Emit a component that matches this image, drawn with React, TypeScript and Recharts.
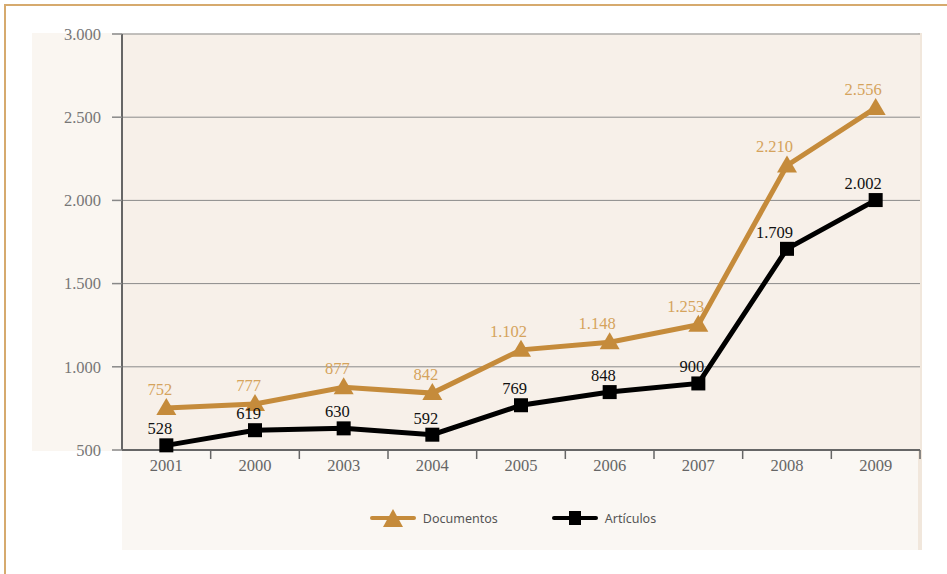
import { LineChart, Line, XAxis, YAxis, CartesianGrid, Legend, LabelList } from 'recharts'

const years = ['2001', '2000', '2003', '2004', '2005', '2006', '2007', '2008', '2009']
const documentos = [752, 777, 877, 842, 1102, 1148, 1253, 2210, 2556]
const articulos = [528, 619, 630, 592, 769, 848, 900, 1709, 2002]
const yTicks = [500, 1000, 1500, 2000, 2500, 3000]

const data = years.map((year, i) => ({
  year,
  documentos: documentos[i],
  articulos: articulos[i],
}))

const GOLD = '#C58B3B'
const GOLD_LABEL = '#D5A35C'
const SERIF = '"Liberation Serif", "Times New Roman", serif'
const SANS = '"Noto Sans", "Open Sans", sans-serif'

const fmt = (v: number) => v.toLocaleString('de-DE')

const Triangle = (props: any) => {
  const { cx, cy } = props
  if (cx == null || cy == null) return null
  return (
    <polygon
      points={`${cx},${cy - 10} ${cx - 10},${cy + 7} ${cx + 10},${cy + 7}`}
      fill={GOLD}
    />
  )
}

const Square = (props: any) => {
  const { cx, cy } = props
  if (cx == null || cy == null) return null
  return <rect x={cx - 7} y={cy - 7} width={14} height={14} fill="#000" />
}

// labels sit up and slightly to the left of each point, right edge just past it
const makeLabel = (color: string, lift: number) => (props: any) => {
  const { x, y, value } = props
  if (x == null || y == null) return null
  return (
    <text x={x + 6} y={y - lift} textAnchor="end" fill={color} fontSize={16.5} fontFamily={SERIF}>
      {fmt(value)}
    </text>
  )
}

const XTick = (props: any) => {
  const { x, y, payload, width, visibleTicksCount } = props
  const half = width / visibleTicksCount / 2
  return (
    <g>
      <line x1={x + half} y1={y - 8} x2={x + half} y2={y + 1} stroke="#666" strokeWidth={1.5} />
      <text x={x} y={y + 13} textAnchor="middle" fill="#666" fontSize={16.5} fontFamily={SERIF}>
        {payload.value}
      </text>
    </g>
  )
}

const LegendContent = () => (
  <div
    style={{
      display: 'flex',
      justifyContent: 'center',
      alignItems: 'center',
      gap: 54,
      paddingTop: 18,
      fontFamily: SANS,
      fontSize: 12.5,
      color: '#555',
    }}
  >
    <div style={{ display: 'flex', alignItems: 'center', gap: 7 }}>
      <svg width={46} height={20}>
        <line x1={2} y1={10} x2={44} y2={10} stroke={GOLD} strokeWidth={4} strokeLinecap="round" />
        <polygon points="23,1 13,19 33,19" fill={GOLD} />
      </svg>
      <span>Documentos</span>
    </div>
    <div style={{ display: 'flex', alignItems: 'center', gap: 7 }}>
      <svg width={46} height={20}>
        <line x1={2} y1={10} x2={44} y2={10} stroke="#000" strokeWidth={4} strokeLinecap="round" />
        <rect x={17} y={3} width={12} height={14} fill="#000" />
      </svg>
      <span>Artículos</span>
    </div>
  </div>
)

export default function App() {
  return (
    <div style={{ position: 'absolute', left: 0, top: 0, width: 947, height: 574, background: '#fff', overflow: 'hidden' }}>
      {/* frame */}
      <div style={{ position: 'absolute', left: 4, top: 4, width: 943, height: 2, background: '#D6AA6E' }} />
      <div style={{ position: 'absolute', left: 4, top: 4, width: 2, height: 570, background: '#D6AA6E' }} />
      {/* light panels */}
      <div style={{ position: 'absolute', left: 32, top: 33, width: 890, height: 418, background: '#FAF6F1' }} />
      <div style={{ position: 'absolute', left: 122, top: 450, width: 800, height: 100, background: '#FAF7F3' }} />
      <div style={{ position: 'absolute', left: 918, top: 33, width: 4, height: 517, background: '#F1E7DC' }} />
      <div style={{ position: 'absolute', left: 0, top: 0 }}>
        <LineChart
          width={947}
          height={574}
          data={data}
          margin={{ top: 34, right: 27, left: 22, bottom: 0 }}
        >
          <CartesianGrid vertical={false} stroke="#8a8a8a" strokeWidth={1} fill="#F7F0E9" />
          <XAxis
            dataKey="year"
            scale="band"
            height={40}
            axisLine={{ stroke: '#666', strokeWidth: 2 }}
            tickLine={false}
            tick={<XTick />}
            interval={0}
          />
          <YAxis
            domain={[500, 3000]}
            ticks={yTicks}
            width={100}
            tickFormatter={fmt}
            axisLine={{ stroke: '#666', strokeWidth: 2 }}
            tickLine={{ stroke: '#888', strokeWidth: 1.5 }}
            tickSize={10}
            tickMargin={11}
            tick={{ fill: '#777', fontSize: 16.5, fontFamily: SERIF }}
          />
          <Legend verticalAlign="bottom" height={84} wrapperStyle={{ left: 114, width: 798 }} content={<LegendContent />} />
          <Line
            dataKey="documentos"
            stroke={GOLD}
            strokeWidth={5}
            dot={<Triangle />}
            activeDot={false}
            isAnimationActive={false}
          >
            <LabelList dataKey="documentos" content={makeLabel(GOLD_LABEL, 13)} />
          </Line>
          <Line
            dataKey="articulos"
            stroke="#000"
            strokeWidth={5}
            dot={<Square />}
            activeDot={false}
            isAnimationActive={false}
          >
            <LabelList dataKey="articulos" content={makeLabel('#111', 11)} />
          </Line>
        </LineChart>
      </div>
    </div>
  )
}
